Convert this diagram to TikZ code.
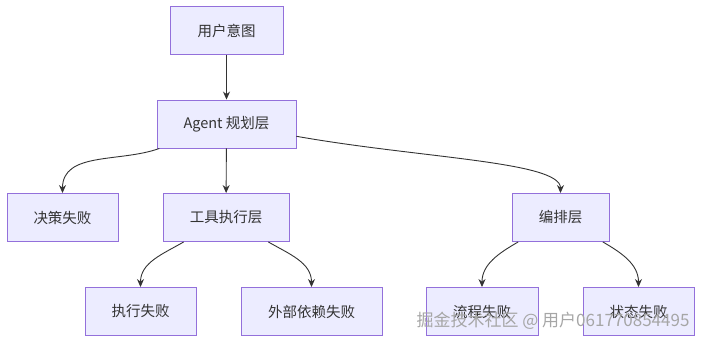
\documentclass[tikz,border=0pt]{standalone}
\usepackage{fontspec}
\setmainfont{Liberation Sans}
\newfontfamily\cjk{Noto Sans CJK SC}
\usetikzlibrary{arrows.meta}
\definecolor{boxfill}{HTML}{ECECFF}
\definecolor{boxline}{HTML}{9370DB}
\definecolor{ink}{HTML}{333333}
\begin{document}
\begin{tikzpicture}[
    x=1pt, y=-1pt,
    box/.style={rectangle, draw=boxline, fill=boxfill, line width=0.9pt, minimum height=48pt, font=\cjk\fontsize{14.5}{16}\selectfont, text=ink, text centered},
    link/.style={-{Stealth[length=8pt,width=7pt]}, draw=ink, line width=0.9pt}
]
\useasboundingbox (0,0) rectangle (702,343);

% Ebenen
\node[box, minimum width=113pt] (intent) at (226.5,30.5) {用户意图};
\node[box, minimum width=139pt] (agent) at (226.5,124) {Agent 规划层};
\node[box, minimum width=111pt] (decide) at (62.5,217.5) {决策失败};
\node[box, minimum width=126pt] (tool) at (226,217.5) {工具执行层};
\node[box, minimum width=97pt] (orch) at (560.5,217.5) {编排层};

% Fehlerarten
\node[box, minimum width=111pt] (exec) at (140.5,311.5) {执行失败};
\node[box, minimum width=141pt] (extern) at (311.5,311.5) {外部依赖失败};
\node[box, minimum width=112pt] (flow) at (482,311.5) {流程失败};
\node[box, minimum width=111pt] (state) at (638.5,311.5) {状态失败};

% Verbindungen
\draw[link] (intent) -- (agent);
\draw[link] (agent) -- (tool);
\draw[link] (agent) to[out=200, in=90] (decide);
\draw[link] (agent) to[out=-10, in=90, out looseness=1.2, in looseness=0.3] (orch);
\draw[link] (tool) to[out=-150, in=90] (exec);
\draw[link] (tool) to[out=-30, in=90] (extern);
\draw[link] (orch) to[out=-150, in=90] (flow);
\draw[link] (orch) to[out=-30, in=90] (state);

\node[font=\cjk\fontsize{17}{19}\selectfont, text=gray!70] (mark) at (553,321) {掘金技术社区 @ 用户061770854495};
\end{tikzpicture}
\end{document}
